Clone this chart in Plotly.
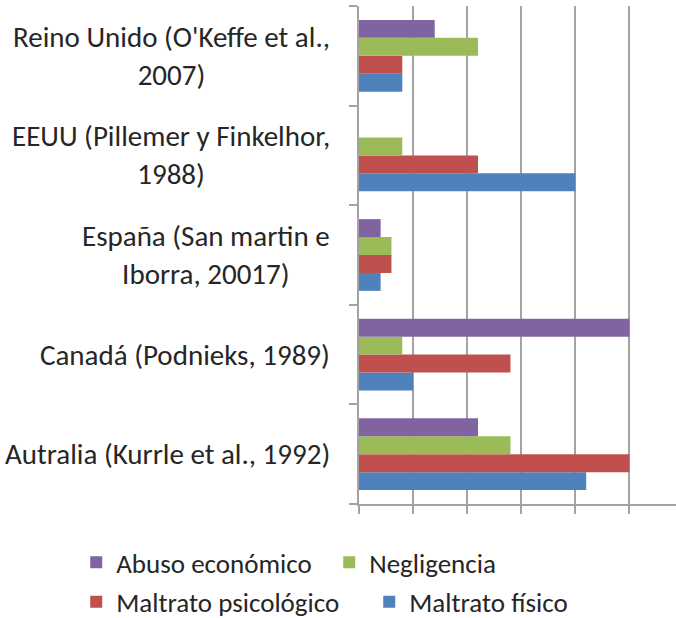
import plotly.graph_objects as go

categories = [
    "Autralia (Kurrle et al., 1992)",
    "Canadá (Podnieks, 1989)",
    "España (San martin e<br>Iborra, 20017)",
    "EEUU (Pillemer y Finkelhor,<br>1988)",
    "Reino Unido (O'Keffe et al.,<br>2007)",
]
maltrato_fisico = [4.2, 1.0, 0.4, 4.0, 0.8]
maltrato_psicologico = [5.0, 2.8, 0.6, 2.2, 0.8]
negligencia = [2.8, 0.8, 0.6, 0.8, 2.2]
abuso_economico = [2.2, 5.0, 0.4, 0, 1.4]

FONT = "Carlito, Lato, sans-serif"
TXT = "#262626"
GRID = "#a3a3a3"

series = [
    ("Maltrato físico", maltrato_fisico, "#4F81BD", "legend2"),
    ("Maltrato psicológico", maltrato_psicologico, "#C0504D", "legend2"),
    ("Negligencia", negligencia, "#9BBB59", "legend"),
    ("Abuso económico", abuso_economico, "#8064A2", "legend"),
]

fig = go.Figure()
for name, vals, color, lg in series:
    fig.add_trace(go.Bar(
        y=categories, x=vals, name=name, orientation="h",
        marker=dict(color=color, line=dict(width=0)),
        legend=lg,
    ))

for c in categories:
    fig.add_annotation(
        x=0, xref="paper", y=c, yref="y", text=c, showarrow=False,
        xanchor="right", yanchor="middle", align="center", xshift=-27,
        font=dict(family=FONT, size=29, color=TXT),
    )

fig.update_layout(
    width=676, height=618,
    margin=dict(l=359, r=0, t=6, b=114, autoexpand=False),
    paper_bgcolor="white", plot_bgcolor="white",
    barmode="group", bargap=0.28, bargroupgap=0,
    font=dict(family=FONT, size=27, color=TXT),
    legend=dict(
        orientation="h", traceorder="reversed",
        x=-0.892, xanchor="left", y=-0.118, yanchor="middle",
        entrywidth=208, entrywidthmode="pixels",
        font=dict(family=FONT, size=27, color=TXT),
        bgcolor="rgba(0,0,0,0)",
    ),
    legend2=dict(
        orientation="h", traceorder="reversed",
        x=-0.892, xanchor="left", y=-0.197, yanchor="middle",
        entrywidth=248, entrywidthmode="pixels",
        font=dict(family=FONT, size=27, color=TXT),
        bgcolor="rgba(0,0,0,0)",
    ),
    showlegend=True,
)
fig.update_xaxes(
    range=[0, 5.86], dtick=1, showticklabels=False,
    showgrid=True, gridcolor=GRID, gridwidth=2,
    showline=True, linecolor=GRID, linewidth=2,
    ticks="outside", ticklen=8, tickcolor=GRID, tickwidth=2,
    zeroline=False, fixedrange=True,
)
fig.update_yaxes(
    showticklabels=False, tickson="boundaries",
    ticks="outside", ticklen=8, tickcolor=GRID, tickwidth=2,
    showline=True, linecolor=GRID, linewidth=2,
    showgrid=False, zeroline=False, range=[-0.5, 4.5],
)
fig.write_html(
    "out.html",
    config={"displayModeBar": False},
    post_script="document.body.style.margin='0';document.body.style.overflow='hidden';",
)
